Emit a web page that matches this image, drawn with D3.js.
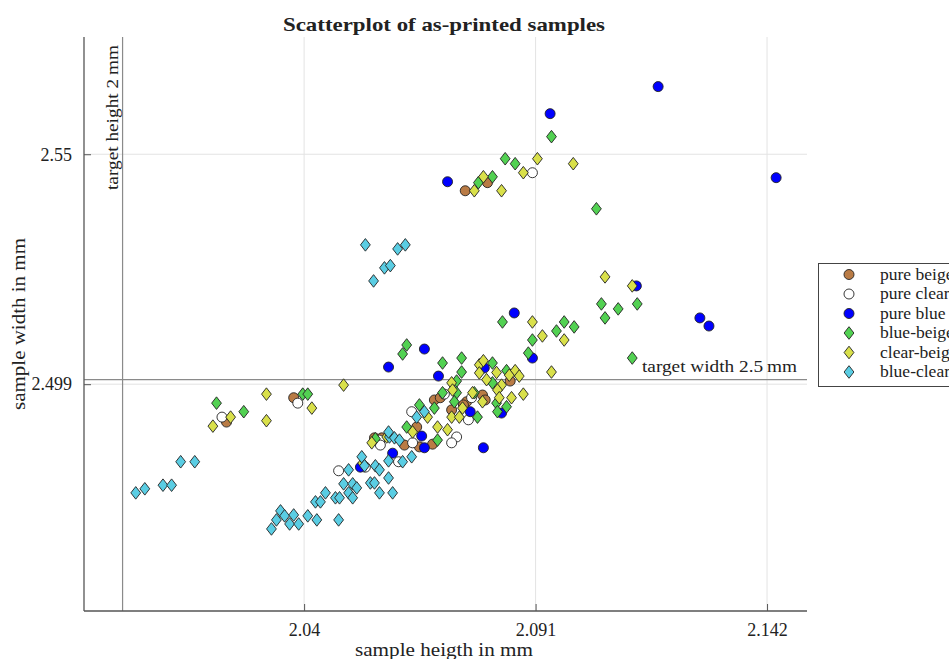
<!DOCTYPE html>
<html>
<head>
<meta charset="utf-8">
<script src="https://cdn.jsdelivr.net/npm/d3@7"></script>
<style>
  html, body { margin: 0; padding: 0; background: #fff; overflow: hidden; }
  svg { display: block; }
  text { font-family: "Liberation Serif", "DejaVu Serif", serif; fill: #222; }
</style>
</head>
<body>
<svg id="chart" width="949" height="659"></svg>
<script>
// ---------------- data (sample height mm, sample width mm) ----------------
const seriesNames = ["pure beige", "pure clear", "pure blue", "blue-beige", "clear-beige", "blue-clear"];
const seriesColors = ["#B97B45", "#FFFFFF", "#0000FF", "#52D152", "#D9E04A", "#5ACDE3"];
const seriesShapes = ["circle", "circle", "circle", "diamond", "diamond", "diamond"];

const xTicks = [2.04, 2.091, 2.142];
const yTicks = [2.499, 2.55];
const xDomain = [1.9915, 2.1508];
const yDomain = [2.4487, 2.576];
const targetHeight = 2.0;
const targetWidth = 2.5;

const pureBeige = [
  [2.0755,2.5419],[2.0804,2.5437],[2.0229,2.4906],[2.0377,2.4960],[2.0555,2.4871],
  [2.0854,2.4997],[2.0793,2.4966],[2.0758,2.4951],[2.0687,2.4955],[2.0648,2.4895],
  [2.0654,2.4851],[2.0621,2.4855],[2.0725,2.4933],[2.0683,2.4857],[2.0700,2.4960],
  [2.0799,2.4955],[2.0751,2.4944],[2.0571,2.4871]
];
const pureClear = [
  [2.0903,2.5459],[2.0219,2.4917],[2.0386,2.4948],[2.0476,2.4798],[2.0566,2.4866],
  [2.0608,2.4818],[2.0637,2.4929],[2.0736,2.4873],[2.0709,2.4968],[2.0762,2.4911],
  [2.0725,2.4860],[2.0639,2.4860],[2.0535,2.4806],[2.0568,2.4855],[2.0769,2.4960]
];
const pureBlue = [
  [2.1180,2.5650],[2.0942,2.5590],[2.1440,2.5448],[2.0716,2.5439],[2.1132,2.5208],
  [2.1272,2.5137],[2.1292,2.5119],[2.0863,2.5148],[2.0903,2.5048],[2.0665,2.5068],
  [2.0586,2.5028],[2.0696,2.5008],[2.0797,2.5026],[2.0766,2.4929],[2.0835,2.4926],
  [2.0659,2.4875],[2.0665,2.4849],[2.0595,2.4837],[2.0795,2.4849],[2.0524,2.4806]
];
const blueBeige = [
  [2.0945,2.5539],[2.0843,2.5490],[2.0865,2.5479],[2.1044,2.5379],[2.0784,2.5437],
  [2.0815,2.5450],[2.1055,2.5168],[2.1063,2.5137],[2.1092,2.5157],[2.1134,2.5168],
  [2.1123,2.5048],[2.0837,2.5128],[2.0903,2.5088],[2.0894,2.5059],[2.0956,2.5108],
  [2.0973,2.5128],[2.0995,2.5117],[2.0846,2.5020],[2.0207,2.4948],[2.0267,2.4929],
  [2.0397,2.4968],[2.0408,2.4968],[2.0557,2.4869],[2.0626,2.5077],[2.0617,2.5057],
  [2.0705,2.5037],[2.0747,2.5048],[2.0747,2.5017],[2.0736,2.4997],[2.0815,2.5037],
  [2.0775,2.4971],[2.0815,2.4993],[2.0824,2.4948],[2.0846,2.4940],[2.0782,2.4917],
  [2.0687,2.4937],[2.0694,2.4866],[2.0626,2.4895],[2.0705,2.4971],[2.0826,2.4929],
  [2.0736,2.4971],[2.0731,2.4951],[2.0654,2.4944]
];
const clearBeige = [
  [2.0775,2.5419],[2.0795,2.5450],[2.0835,2.5419],[2.0883,2.5459],[2.0914,2.5490],
  [2.0993,2.5479],[2.1063,2.5228],[2.1123,2.5208],[2.0903,2.5128],[2.0925,2.5097],
  [2.0973,2.5088],[2.0945,2.5017],[2.0865,2.5020],[2.0874,2.5008],[2.0883,2.4968],
  [2.0317,2.4968],[2.0317,2.4909],[2.0199,2.4897],[2.0238,2.4917],[2.0417,2.4937],
  [2.0487,2.4988],[2.0549,2.4860],[2.0529,2.4815],[2.0786,2.5033],[2.0852,2.5010],
  [2.0857,2.4960],[2.0824,2.5016],[2.0835,2.4988],[2.0725,2.4993],[2.0725,2.4917],
  [2.0694,2.4895],[2.0716,2.4889],[2.0672,2.4917],[2.0786,2.5015],[2.0802,2.5000],
  [2.0771,2.4971],[2.0749,2.4937],[2.0742,2.4917],[2.0793,2.4951],[2.0826,2.4977],
  [2.0830,2.4960],[2.0639,2.4884],[2.0727,2.4977],[2.0582,2.4873],[2.0795,2.5042]
];
const blueClear = [
  [2.0535,2.5299],[2.0553,2.5219],[2.0577,2.5248],[2.0590,2.5253],[2.0606,2.5290],
  [2.0623,2.5299],[2.0029,2.4749],[2.0049,2.4758],[2.0089,2.4766],[2.0108,2.4766],
  [2.0128,2.4818],[2.0159,2.4818],[2.0328,2.4669],[2.0339,2.4689],[2.0348,2.4709],
  [2.0357,2.4698],[2.0368,2.4680],[2.0377,2.4700],[2.0388,2.4680],[2.0408,2.4698],
  [2.0428,2.4689],[2.0425,2.4729],[2.0436,2.4729],[2.0447,2.4749],[2.0469,2.4738],
  [2.0476,2.4689],[2.0478,2.4738],[2.0487,2.4769],[2.0498,2.4749],[2.0498,2.4800],
  [2.0507,2.4769],[2.0507,2.4738],[2.0516,2.4760],[2.0527,2.4829],[2.0533,2.4809],
  [2.0546,2.4771],[2.0555,2.4771],[2.0566,2.4749],[2.0557,2.4809],[2.0566,2.4800],
  [2.0586,2.4782],[2.0595,2.4749],[2.0586,2.4820],[2.0588,2.4873],[2.0599,2.4871],
  [2.0610,2.4866],[2.0648,2.4917],[2.0665,2.4929],[2.0637,2.4829],[2.0617,2.4818],
  [2.0586,2.4884]
];
const seriesData = [pureBeige, pureClear, pureBlue, blueBeige, clearBeige, blueClear];

// ---------------- layout ----------------
const svg = d3.select("#chart");
const L = 84, R = 807, T = 37, B = 611;
const x = d3.scaleLinear().domain(xDomain).range([L, R]);
const y = d3.scaleLinear().domain(yDomain).range([B, T]);

// widen serif text to mimic the Computer Modern look of the original
function widen(sel, factor) {
  sel.each(function () {
    const w = this.getComputedTextLength();
    d3.select(this).attr("textLength", w * factor).attr("lengthAdjust", "spacingAndGlyphs");
  });
  return sel;
}

// grid
const grid = svg.append("g");
grid.selectAll("line.gx").data(xTicks).enter().append("line")
  .attr("x1", d => x(d)).attr("x2", d => x(d)).attr("y1", T).attr("y2", B)
  .attr("stroke", "#e3e3e3").attr("stroke-width", 1);
grid.selectAll("line.gy").data(yTicks).enter().append("line")
  .attr("x1", L).attr("x2", R).attr("y1", d => y(d)).attr("y2", d => y(d))
  .attr("stroke", "#e3e3e3").attr("stroke-width", 1);

// target lines
svg.append("line").attr("x1", x(targetHeight)).attr("x2", x(targetHeight))
  .attr("y1", T).attr("y2", B).attr("stroke", "#8a8a8a").attr("stroke-width", 1.2);
svg.append("line").attr("x1", L).attr("x2", R)
  .attr("y1", y(targetWidth)).attr("y2", y(targetWidth))
  .attr("stroke", "#8a8a8a").attr("stroke-width", 1.2);

// axes
const xAxis = d3.axisBottom(x).tickValues(xTicks).tickSizeInner(-7).tickSizeOuter(0)
  .tickFormat(d => String(d)).tickPadding(12);
const yAxis = d3.axisLeft(y).tickValues(yTicks).tickSizeInner(-7).tickSizeOuter(0)
  .tickFormat(d => String(d)).tickPadding(12);
const gx = svg.append("g").attr("transform", `translate(0,${B})`).call(xAxis);
const gy = svg.append("g").attr("transform", `translate(${L},0)`).call(yAxis);
[gx, gy].forEach(g => {
  g.select(".domain").attr("stroke", "#555").attr("stroke-width", 1.3);
  g.selectAll(".tick line").attr("stroke", "#555").attr("stroke-width", 1);
  g.selectAll(".tick text").attr("font-family", "Liberation Serif, serif")
    .attr("font-size", 18).attr("fill", "#222");
});
gx.select(".domain").attr("d", `M${L},0H${R}`);
gy.select(".domain").attr("d", `M0,${B}V${T}`);

// markers
const diamond = (cx, cy) => `M${cx},${cy - 6.3}L${cx + 4.9},${cy}L${cx},${cy + 6.3}L${cx - 4.9},${cy}Z`;
const marks = svg.append("g");
seriesData.forEach((arr, i) => {
  const g = marks.append("g");
  if (seriesShapes[i] === "circle") {
    g.selectAll("circle").data(arr).enter().append("circle")
      .attr("cx", d => x(d[0])).attr("cy", d => y(d[1])).attr("r", 5)
      .attr("fill", seriesColors[i]).attr("stroke", "#222").attr("stroke-width", 0.9);
  } else {
    g.selectAll("path").data(arr).enter().append("path")
      .attr("d", d => diamond(x(d[0]), y(d[1])))
      .attr("fill", seriesColors[i]).attr("stroke", "#222").attr("stroke-width", 0.9);
  }
});

// annotations
svg.append("text")
  .attr("transform", `translate(${x(targetHeight) - 5},${T + 8}) rotate(-90)`)
  .attr("text-anchor", "end").attr("font-size", 17).text("target height 2\u2009mm")
  .attr("textLength", 145).attr("lengthAdjust", "spacingAndGlyphs");
svg.append("text")
  .attr("x", R - 10).attr("y", y(targetWidth) - 8)
  .attr("text-anchor", "end").attr("font-size", 17).text("target width 2.5\u2009mm")
  .attr("textLength", 155).attr("lengthAdjust", "spacingAndGlyphs");

// title and axis labels
svg.append("text").attr("x", 444).attr("y", 31).attr("text-anchor", "middle")
  .attr("font-size", 19).attr("font-weight", "bold").text("Scatterplot of as-printed samples")
  .attr("textLength", 322).attr("lengthAdjust", "spacingAndGlyphs");
svg.append("text").attr("x", 444).attr("y", 656).attr("text-anchor", "middle")
  .attr("font-size", 19).text("sample heigth in mm")
  .attr("textLength", 178).attr("lengthAdjust", "spacingAndGlyphs");
svg.append("text").attr("transform", `translate(25,${(T + B) / 2}) rotate(-90)`)
  .attr("text-anchor", "middle").attr("font-size", 19).text("sample width in mm")
  .attr("textLength", 172).attr("lengthAdjust", "spacingAndGlyphs");

// legend
const lg = svg.append("g");
lg.append("rect").attr("x", 818.5).attr("y", 263.5).attr("width", 160).attr("height", 123)
  .attr("fill", "#fff").attr("stroke", "#444").attr("stroke-width", 1);
seriesNames.forEach((name, i) => {
  const cy = 274.5 + i * 19.5;
  if (seriesShapes[i] === "circle") {
    lg.append("circle").attr("cx", 849).attr("cy", cy).attr("r", 5)
      .attr("fill", seriesColors[i]).attr("stroke", "#222").attr("stroke-width", 0.9);
  } else {
    lg.append("path").attr("d", diamond(849, cy))
      .attr("fill", seriesColors[i]).attr("stroke", "#222").attr("stroke-width", 0.9);
  }
  const t = lg.append("text").attr("x", 880).attr("y", cy + 5).attr("font-size", 17).text(name);
  widen(t, 1.03);
});
</script>
</body>
</html>
